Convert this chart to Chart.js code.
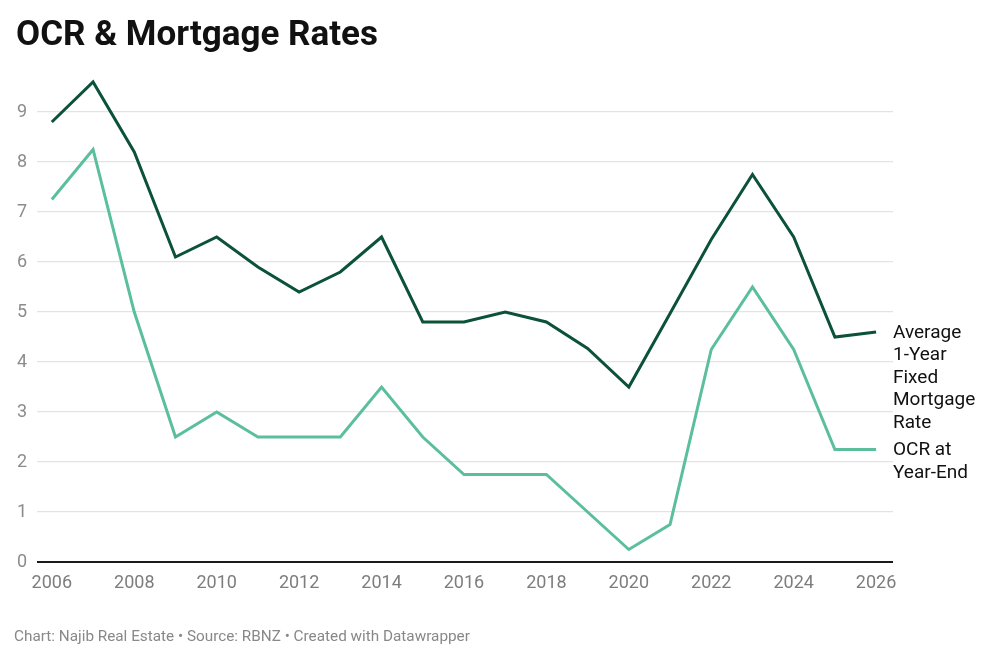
<!DOCTYPE html>
<html>
<head>
<meta charset="utf-8">
<script src="https://cdn.jsdelivr.net/npm/chart.js@4/dist/chart.umd.min.js"></script>
<style>
    html, body { margin: 0; padding: 0; background: #fff; }
    body { width: 992px; height: 663px; position: relative; overflow: hidden; font-family: Roboto, sans-serif; }
    #title { position: absolute; left: 16px; top: 14px; font-size: 35px; line-height: 40px; font-weight: 700; color: #111; }
    #footer { position: absolute; left: 14px; top: 627px; font-size: 15.3px; color: #888; }
    #wrap { position: absolute; left: 0; top: 0; width: 992px; height: 663px; }
</style>
</head>
<body>
<div id="wrap"><canvas id="chart" width="992" height="663"></canvas></div>
<div id="title">OCR &amp; Mortgage Rates</div>
<div id="footer">Chart: Najib Real Estate • Source: RBNZ • Created with Datawrapper</div>
<script>
    // Data
    const years = [2006, 2007, 2008, 2009, 2010, 2011, 2012, 2013, 2014, 2015, 2016,
                   2017, 2018, 2019, 2020, 2021, 2022, 2023, 2024, 2025, 2026];
    const mortgageRate = [8.8, 9.6, 8.2, 6.1, 6.5, 5.9, 5.4, 5.8, 6.5, 4.8, 4.8,
                          5.0, 4.8, 4.27, 3.5, 4.97, 6.45, 7.75, 6.5, 4.5, 4.6];
    const ocrRate = [7.25, 8.25, 5.0, 2.5, 3.0, 2.5, 2.5, 2.5, 3.5, 2.5, 1.75,
                     1.75, 1.75, 1.0, 0.25, 0.75, 4.25, 5.5, 4.25, 2.25, 2.25];
    const xTicks = [2006, 2008, 2010, 2012, 2014, 2016, 2018, 2020, 2022, 2024, 2026];
    const yTicks = [0, 1, 2, 3, 4, 5, 6, 7, 8, 9];
    const seriesLabels = [
        ['Average', '1-Year', 'Fixed', 'Mortgage', 'Rate'],
        ['OCR at', 'Year-End']
    ];

    const darkGreen = '#0c5239';
    const lightGreen = '#5bbf9b';

    // Labels at the end of each line
    const endLabels = {
        id: 'endLabels',
        afterDatasetsDraw(chart) {
            const c = chart.ctx;
            const x = chart.chartArea.right;
            const yScale = chart.scales.y;
            c.save();
            c.font = '19px Roboto, sans-serif';
            c.fillStyle = '#111';
            c.textBaseline = 'middle';
            c.textAlign = 'left';
            chart.data.datasets.forEach((ds, i) => {
                const y0 = yScale.getPixelForValue(ds.data[ds.data.length - 1]);
                seriesLabels[i].forEach((line, j) => {
                    c.fillText(line, x, y0 + 1 + j * 22.5);
                });
            });
            c.restore();
        }
    };

    const ctx = document.getElementById('chart').getContext('2d');
    const chart = new Chart(ctx, {
        type: 'line',
        data: {
            labels: years,
            datasets: [
                {
                    label: 'Average 1-Year Fixed Mortgage Rate',
                    data: mortgageRate,
                    borderColor: darkGreen,
                    borderWidth: 3,
                    pointRadius: 0,
                    tension: 0
                },
                {
                    label: 'OCR at Year-End',
                    data: ocrRate,
                    borderColor: lightGreen,
                    borderWidth: 3,
                    pointRadius: 0,
                    tension: 0
                }
            ]
        },
        options: {
            responsive: false,
            animation: false,
            devicePixelRatio: 1,
            layout: { padding: { top: 62, right: 99, bottom: 61, left: 0 } },
            plugins: {
                legend: { display: false },
                tooltip: { enabled: false }
            },
            scales: {
                x: {
                    type: 'linear',
                    min: 2005.64,
                    max: 2026.41,
                    afterBuildTicks(scale) {
                        scale.ticks = xTicks.map(v => ({ value: v }));
                    },
                    afterFit(scale) { scale.height = 40; },
                    grid: { display: false, drawTicks: false },
                    border: { display: false },
                    ticks: {
                        padding: 11,
                        color: '#7d7d7d',
                        font: { family: 'Roboto', size: 18 },
                        maxRotation: 0,
                        autoSkip: false,
                        callback: v => String(v)
                    }
                },
                y: {
                    min: 0,
                    max: 10,
                    afterBuildTicks(scale) {
                        scale.ticks = yTicks.map(v => ({ value: v }));
                    },
                    afterFit(scale) { scale.width = 37; },
                    grid: {
                        drawTicks: false,
                        color: c => c.tick && c.tick.value === 0 ? '#1a1a1a' : '#e3e3e3',
                        lineWidth: c => c.tick && c.tick.value === 0 ? 2 : 1.3
                    },
                    border: { display: false },
                    ticks: {
                        padding: 10,
                        color: '#8c8c8c',
                        font: { family: 'Roboto', size: 18 },
                        callback: v => String(v)
                    }
                }
            }
        },
        plugins: [endLabels]
    });
</script>
</body>
</html>
